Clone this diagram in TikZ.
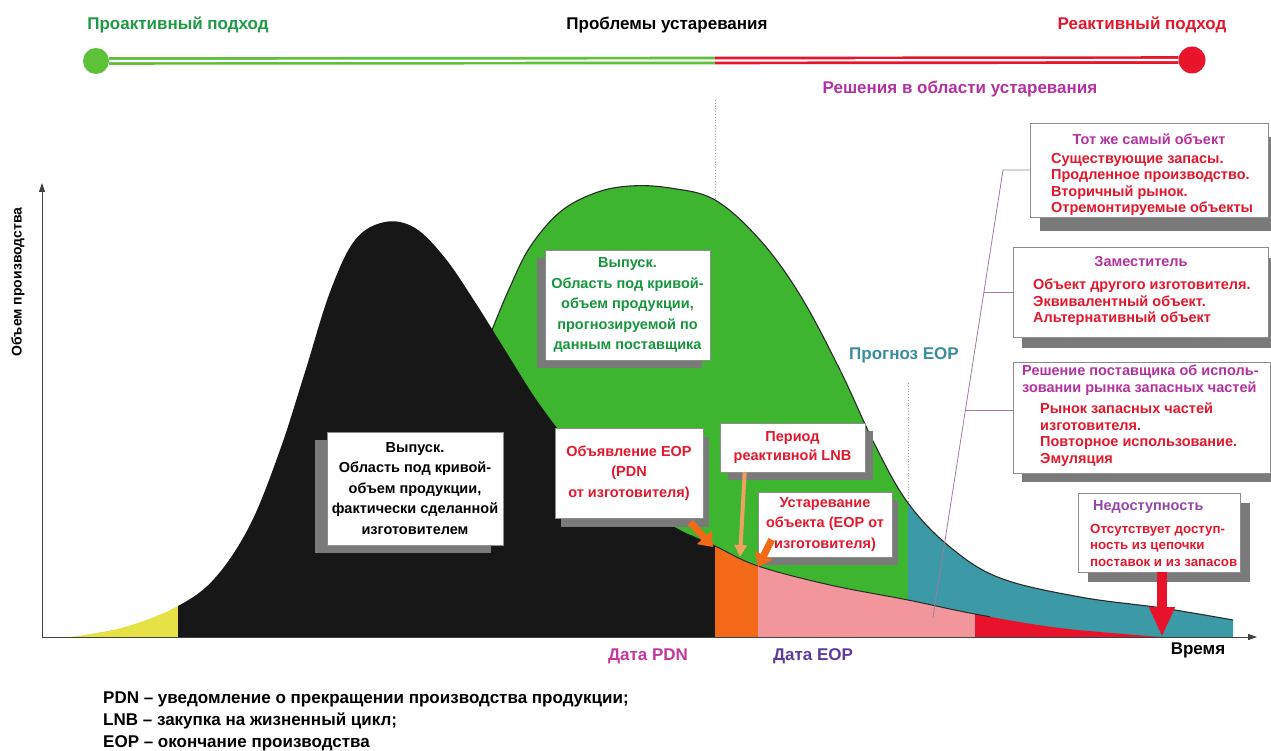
\documentclass[tikz,border=0pt]{standalone}
\usepackage{fontspec}
\setmainfont{Liberation Sans}
\usetikzlibrary{arrows.meta,shadows}

% palette
\definecolor{barGreen}{HTML}{5EC13A}
\definecolor{barRed}{HTML}{E8142A}
\definecolor{txtGreen}{HTML}{1E9A45}
\definecolor{txtRed}{HTML}{E3182D}
\definecolor{txtMag}{HTML}{B4329F}
\definecolor{txtViolet}{HTML}{9347A6}
\definecolor{txtPDN}{HTML}{C2389E}
\definecolor{txtEOP}{HTML}{5B3C9E}
\definecolor{txtTeal}{HTML}{3A8D9C}
\definecolor{boxGreen}{HTML}{16953D}
\definecolor{fillGreen}{HTML}{3DB52F}
\definecolor{fillBlack}{HTML}{171717}
\definecolor{fillOrange}{HTML}{F26A18}
\definecolor{fillPink}{HTML}{F2969B}
\definecolor{fillRed}{HTML}{E8132B}
\definecolor{fillTeal}{HTML}{3B9AA6}
\definecolor{fillYellow}{HTML}{E6E245}
\definecolor{shadowGray}{HTML}{7A7A7A}
\definecolor{frameGray}{HTML}{8C8C8C}
\definecolor{guideGray}{HTML}{A0A0A0}
\definecolor{bracketLine}{HTML}{A07AA0}
\definecolor{lightOrange}{HTML}{F0A060}
\definecolor{curveLine}{HTML}{2A2A2A}

% actual production volume (yellow start, black hump, tail after PDN)
\newcommand\outputcurve{plot[smooth,tension=0.6] coordinates {
  (70,637) (125,627) (178,606) (215,578) (250,525) (280,450) (305,372)
  (330,292) (355,240) (385,222) (415,228) (445,258) (475,302) (505,350)
  (540,405) (580,455) (630,500) (680,530) (715,546) (758,566) (830,585)
  (908,600) (975,614) (1060,628) (1162,637)}}
% supplier forecast volume
\newcommand\forecastcurve{plot[smooth,tension=0.6] coordinates {
  (440,637) (468,392) (492,330) (510,287) (530,247) (560,212) (595,193)
  (630,186) (670,188) (715,200) (760,240) (800,295) (840,370) (875,445)
  (908,503) (950,547) (1000,578) (1080,597) (1162,608) (1233,620)}}

\begin{document}
\begin{tikzpicture}[x=1pt,y=-1pt,
  every node/.style={inner sep=0pt},
  headline/.style={font=\fontsize{17}{20}\selectfont\bfseries},
  boxtext/.style={font=\fontsize{14.5}{20.5}\selectfont\bfseries, align=center},
  sidetitle/.style={font=\fontsize{14.5}{16.5}\selectfont\bfseries, text=txtMag, align=left},
  sidelist/.style={font=\fontsize{14.5}{16.5}\selectfont\bfseries, text=txtRed, align=left},
  panel/.style n args={4}{draw=frameGray, line width=0.6pt, fill=white,
    minimum width=#1pt, minimum height=#2pt,
    drop shadow={shadow xshift=#3pt, shadow yshift=#4pt, fill=shadowGray, opacity=1}},
  guide/.style={guideGray, line width=0.8pt, dotted},
  axis/.style={draw=black!75, line width=0.8pt, -{Triangle[length=9pt,width=6pt]}},
  bar/.style={line width=2.7pt, double=white, double distance=2.2pt},
  bigarrow/.style={draw=fillOrange, line width=7pt, -{Triangle[width=19pt,length=13pt]}},
  thinarrow/.style={draw=lightOrange, line width=4pt, -{Triangle[width=12pt,length=12pt]}},
  bracket/.style={draw=bracketLine, line width=0.8pt}
]
\useasboundingbox (0,0) rectangle (1271,751);
\fill[white] (0,0) rectangle (1271,751);

% ---------- top scale: proactive -> reactive ----------
\node[headline, text=txtGreen] (pro) at (178,25) {Проактивный подход};
\node[headline] (prob) at (667,25) {Проблемы устаревания};
\node[headline, text=txtRed] (rea) at (1142,25) {Реактивный подход};
\node[circle, fill=barGreen, minimum size=26pt] (gdot) at (96,61) {};
\node[circle, fill=barRed, minimum size=27pt] (rdot) at (1192,60) {};
\coordinate (mid) at (715,60.5);
\draw[bar, barGreen] (gdot) -- (mid);
\draw[bar, barRed] (mid) -- (rdot);
\node[headline, text=txtMag] (sol) at (960,89) {Решения в области устаревания};

% ---------- dotted date guides ----------
\coordinate (pdnTop) at (715,100);
\coordinate (pdnBot) at (715,637);
\coordinate (fcTop) at (908,383);
\coordinate (fcBot) at (908,637);
\draw[guide] (pdnTop) -- (pdnBot);
\draw[guide] (fcTop) -- (fcBot);

% ---------- forecast area: green, teal after the EOP forecast ----------
\begin{scope}
  \clip (400,0) rectangle (908,640);
  \fill[fillGreen] \forecastcurve -- (1233,637) -- (440,637) -- cycle;
\end{scope}
\begin{scope}
  \clip (908,0) rectangle (1240,640);
  \fill[fillTeal] \forecastcurve -- (1233,637) -- (440,637) -- cycle;
\end{scope}
\draw[curveLine, line width=1.1pt] \forecastcurve;

% ---------- actual output area, split by period ----------
\foreach \xa/\xb/\col in {0/178/fillYellow, 178/715/fillBlack, 715/758/fillOrange,
                          758/975/fillPink, 975/1170/fillRed}{
  \begin{scope}
    \clip (\xa,0) rectangle (\xb,640);
    \fill[\col] \outputcurve -- cycle;
  \end{scope}
}
\begin{scope}
  \clip (690,0) rectangle (990,640);
  \draw[curveLine, line width=1pt] \outputcurve;
\end{scope}

% ---------- axes ----------
\coordinate (o) at (42,637);
\coordinate (ytop) at (42,183);
\coordinate (xend) at (1257,637);
\draw[axis] (o) -- (ytop);
\draw[axis] (o) -- (xend);
\node[font=\fontsize{14}{16}\selectfont\bfseries, rotate=90] (ylab) at (18,282) {Объем производства};
\node[headline] (time) at (1198,650) {Время};
\node[headline, text=txtPDN] (dpdn) at (648,656) {Дата PDN};
\node[headline, text=txtEOP] (deop) at (813,656) {Дата EOP};
\node[headline, text=txtTeal] (feop) at (904,355) {Прогноз EOP};

% ---------- call-outs on the curves ----------
\node[panel={165}{110}{-8}{-8}, boxtext, text=boxGreen] (gbox) at (627.5,305)
  {Выпуск.\\Область под кривой-\\объем продукции,\\прогнозируемой по\\данным поставщика};
\node[panel={176}{113}{-12}{-8}, boxtext] (kbox) at (415,488.5)
  {Выпуск.\\Область под кривой-\\объем продукции,\\фактически сделанной\\изготовителем};
\node[panel={148}{90}{6}{-9}, boxtext, text=txtRed] (ebox) at (629,473)
  {Объявление EOP\\(PDN\\от изготовителя)};
\node[panel={145}{49}{8}{-8}, boxtext, text=txtRed, font=\fontsize{14.5}{18.5}\selectfont\bfseries] (pbox) at (792.5,447.5)
  {Период\\реактивной LNB};
\node[panel={134}{65}{6}{-8}, boxtext, text=txtRed] (ubox) at (825,524.5)
  {Устаревание\\объекта (EOP от\\изготовителя)};

\coordinate (pdnPt) at (713,547);
\coordinate (lnbPt) at (740,557);
\coordinate (eopPt) at (758,567);
\draw[bigarrow] ([xshift=-13pt,yshift=-4pt]ebox.south east) -- (pdnPt);
\draw[thinarrow] ([xshift=25pt]pbox.south west) -- (lnbPt);
\draw[bigarrow] ([xshift=14pt,yshift=-15pt]ubox.west) -- (eopPt);

% ---------- solution panels ----------
\node[panel={238}{94}{10}{-14}] (b1) at (1149,170) {};
\node[panel={255}{90}{9}{-11}] (b2) at (1140.5,292) {};
\node[panel={257}{111}{9}{-9}] (b3) at (1141.5,417.5) {};
\node[panel={162}{79}{10}{-10}] (b4) at (1159,532.5) {};

\node[sidetitle] (t1) at (1149,139) {Тот же самый объект};
\node[sidelist, anchor=north west] (l1) at (1051,153)
  {Существующие запасы.\\Продленное производство.\\Вторичный рынок.\\Отремонтируемые объекты};
\node[sidetitle] (t2) at (1141,262) {Заместитель};
\node[sidelist, anchor=north west] (l2) at (1033,279)
  {Объект другого изготовителя.\\Эквивалентный объект.\\Альтернативный объект};
\node[sidetitle, anchor=north west] (t3) at (1022,365)
  {Решение поставщика об исполь-\\зовании рынка запасных частей};
\node[sidelist, anchor=north west] (l3) at (1040,403)
  {Рынок запасных частей\\изготовителя.\\Повторное использование.\\Эмуляция};
\node[sidetitle, text=txtViolet, anchor=west] (t4) at (1093,507) {Недоступность};
\node[sidelist, font=\fontsize{13.3}{16.5}\selectfont\bfseries, anchor=north west] (l4) at (1090,524)
  {Отсутствует доступ-\\ность из цепочки\\поставок и из запасов};

% unavailability marker
\coordinate (endPt) at (1162,637);
\draw[draw=fillRed, line width=10pt, -{Triangle[width=24pt,length=30pt]}] (b4.south -| endPt) -- (endPt);

% bracket tying the solution panels to the curve
\coordinate (lb) at (933,617);
\coordinate (j1) at (1003,170);
\coordinate (j2) at (983.9,292);
\coordinate (j3) at (965.4,410);
\draw[bracket] (lb) -- (j1) -- (b1.west);
\draw[bracket] (j2) -- (j2 -| b2.west);
\draw[bracket] (j3) -- (j3 -| b3.west);

% ---------- abbreviations ----------
\node[font=\fontsize{17}{22}\selectfont\bfseries, anchor=north west, align=left] (legend) at (103,692)
  {PDN – уведомление о прекращении производства продукции;\\LNB – закупка на жизненный цикл;\\EOP – окончание производства};
\end{tikzpicture}
\end{document}
